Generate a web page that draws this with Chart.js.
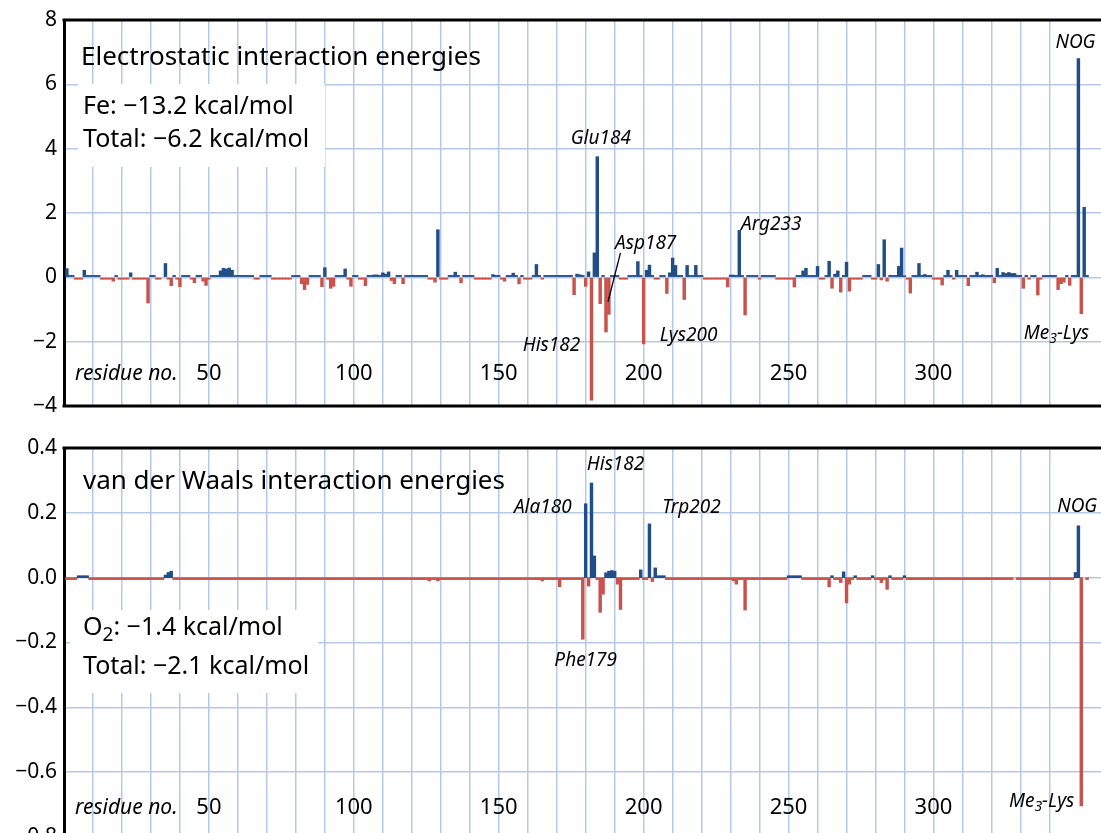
<!DOCTYPE html>
<html>
<head>
<meta charset="utf-8">
<title>Interaction energies per residue</title>
<script src="https://cdn.jsdelivr.net/npm/chart.js@4.4.1/dist/chart.umd.min.js"></script>
<style>
  html, body { margin: 0; padding: 0; background: #fff; overflow: hidden; }
  #wrap { position: relative; width: 1101px; height: 833px; overflow: hidden; }
  canvas { position: absolute; left: 0; }
  #elecChart { top: 0; }
  #vdwChart { top: 420px; }
</style>
</head>
<body>
<div id="wrap">
  <canvas id="elecChart" width="1101" height="420"></canvas>
  <canvas id="vdwChart" width="1101" height="430"></canvas>
</div>
<script>
// residue axis (residue no.)
const residueMin = 0;
const residueMax = 357.8;
const residueLabels = [50, 100, 150, 200, 250, 300];

// electrostatic energies (kcal/mol), the residues that stand out
const elecResidues = [1, 7, 17, 23, 29, 35, 37, 40, 45, 48, 49, 54, 55, 56, 57, 58, 82, 83, 84, 89, 90, 92, 93, 97, 99,
  104, 107, 108, 110, 111, 112, 113, 114, 117, 128, 129, 135, 137, 148, 152, 155, 157, 163, 176, 177, 178, 180, 181,
  182, 183, 184, 185, 187, 188, 198, 200, 201, 202, 208, 209, 210, 211, 214, 215, 218, 229, 230, 231, 233, 235, 252,
  255, 256, 260, 264, 265, 266, 267, 268, 270, 271, 281, 282, 283, 284, 288, 289, 290, 292, 295, 297, 303, 305, 308,
  312, 315, 317, 321, 322, 324, 325, 326, 327, 328, 331, 336, 343, 344, 345, 347, 350, 351, 352];
const elecValues = [0.27, 0.22, -0.12, 0.14, -0.80, 0.43, -0.26, -0.29, -0.17, -0.12, -0.25, 0.20, 0.28, 0.26, 0.29, 0.22, -0.20, -0.38, -0.22, -0.29, 0.30, -0.34, -0.28, 0.26, -0.28,
  -0.26, 0.075, 0.075, 0.14, 0.10, 0.17, -0.10, -0.20, -0.20, -0.15, 1.48, 0.16, -0.17, 0.085, -0.12, 0.13, -0.20, 0.40, -0.54, 0.10, 0.08, -0.28, 0.17,
  -3.82, 0.76, 3.75, -0.82, -1.70, -1.15, 0.49, -2.07, 0.22, 0.38, -0.50, 0.14, 0.60, 0.37, -0.69, 0.37, 0.37, -0.30, 0.07, 0.07, 1.46, -1.17, -0.30,
  0.20, 0.28, 0.34, 0.50, -0.34, 0.10, 0.20, -0.46, 0.47, -0.43, 0.40, -0.08, 1.17, -0.12, 0.34, 0.91, 0.05, -0.49, 0.43, 0.09, -0.24, 0.22, 0.22,
  -0.26, 0.16, 0.08, -0.17, 0.28, 0.15, 0.12, 0.15, 0.12, 0.12, -0.34, -0.55, -0.38, -0.20, -0.15, -0.25, 6.80, -1.13, 2.18];
// residues with only a tiny contribution (ranges of residue numbers)
const elecSmallPos = [[2, 3], [8, 12], [18, 18], [30, 31], [38, 38], [41, 43], [46, 47], [51, 53], [59, 65], [68, 71], [79, 81],
  [85, 88], [94, 96], [100, 101], [105, 106], [109, 109], [115, 116], [118, 125], [133, 134], [136, 136], [138, 141],
  [149, 150], [153, 154], [156, 156], [158, 158], [162, 162], [164, 164], [166, 175], [179, 179], [186, 186], [189, 191],
  [195, 197], [199, 199], [203, 203], [206, 207], [212, 213], [216, 217], [219, 220], [232, 232], [234, 234], [236, 239],
  [241, 245], [253, 254], [257, 259], [263, 263], [269, 269], [276, 278], [285, 287], [293, 294], [296, 296], [298, 299],
  [304, 304], [306, 306], [309, 311], [313, 314], [316, 316], [318, 320], [323, 323], [329, 330], [332, 332], [334, 335],
  [338, 342], [346, 346], [348, 349], [353, 353]];
const elecSmallNeg = [[4, 6], [13, 16], [19, 22], [24, 28], [32, 33], [36, 36], [39, 39], [44, 44], [50, 50], [66, 67],
  [72, 78], [91, 91], [98, 98], [102, 103], [126, 127], [130, 132], [142, 147], [151, 151], [159, 161], [165, 165],
  [192, 194], [204, 205], [221, 228], [240, 240], [246, 251], [261, 262], [272, 275], [279, 280], [291, 291], [300, 302],
  [307, 307], [333, 333], [337, 337]];
const elecSmallSize = 0.06;
const elecTicks = [-4, 8, 2];

// van der Waals energies (kcal/mol)
const vdwResidues = [35, 36, 37, 126, 129, 165, 171, 179, 180, 181, 182, 183, 185, 186, 187, 188, 189, 190, 191, 192,
  199, 202, 203, 204, 231, 232, 235, 264, 268, 269, 270, 271, 282, 284, 349, 350, 351];
const vdwValues = [0.008, 0.016, 0.02, -0.01, -0.01, -0.01, -0.028, -0.19, 0.228, -0.026, 0.292, 0.067, -0.107, -0.051, 0.015, 0.02, 0.022, 0.02, -0.02, -0.098,
  0.024, 0.166, -0.012, 0.03, -0.01, -0.02, -0.10, -0.028, -0.015, 0.018, -0.078, -0.02, -0.015, -0.036, 0.016, 0.16, -0.704];
const vdwSmallPos = [[5, 8], [205, 207], [250, 254], [265, 265], [273, 273], [279, 279], [285, 285], [290, 290]];
const vdwSmallNeg = [[1, 4], [9, 34], [38, 125], [127, 128], [130, 164], [166, 170], [172, 178], [184, 184], [193, 198],
  [200, 201], [208, 230], [233, 234], [236, 249], [255, 263], [266, 267], [272, 272], [274, 278], [280, 281], [283, 283],
  [286, 289], [291, 327], [329, 348], [353, 353]];
const vdwSmallSize = 0.006;
const vdwTicks = [-0.8, 0.4, 0.2];

const BLUE = '#224e88';
const RED = '#c9524d';
const GRID = '#b5c9e6';
const FONT = '"Noto Sans", "Open Sans", sans-serif';

function buildBars(residues, values, smallPos, smallNeg, smallSize) {
  const byResidue = new Map();
  smallPos.forEach(([a, b]) => { for (let r = a; r <= b; r++) byResidue.set(r, smallSize); });
  smallNeg.forEach(([a, b]) => { for (let r = a; r <= b; r++) byResidue.set(r, -smallSize); });
  residues.forEach((r, i) => byResidue.set(r, values[i]));
  return [...byResidue.entries()].sort((a, b) => a[0] - b[0]).map(([x, y]) => ({ x, y }));
}

function drawRich(ctx, parts, x, y, size, italic, align) {
  const style = italic ? 'italic ' : '';
  const big = `${style}${size}px ${FONT}`;
  const small = `${style}${Math.round(size * 0.75)}px ${FONT}`;
  let total = 0;
  parts.forEach(p => { ctx.font = p.sub ? small : big; total += ctx.measureText(p.t).width; });
  let cx = align === 'left' ? x : x - total / 2;
  ctx.textAlign = 'left';
  parts.forEach(p => {
    ctx.font = p.sub ? small : big;
    ctx.fillText(p.t, cx, p.sub ? y + size * 0.3 : y);
    cx += ctx.measureText(p.t).width;
  });
}

const panelText = {
  id: 'panelText',
  beforeDatasetsDraw(chart, args, opts) {
    const { ctx, chartArea } = chart;
    ctx.save();
    ctx.fillStyle = '#fff';
    opts.boxes.forEach(b => ctx.fillRect(chartArea.left + b.dx, chartArea.top + b.dy, b.w, b.h));
    ctx.restore();
  },
  afterDatasetsDraw(chart, args, opts) {
    const { ctx, chartArea } = chart;
    const xs = chart.scales.x, ys = chart.scales.y;
    ctx.save();
    // frame lines, top and bottom
    ctx.strokeStyle = '#000';
    ctx.lineWidth = 3;
    ctx.beginPath();
    ctx.moveTo(chartArea.left - 1.5, chartArea.top);
    ctx.lineTo(chartArea.right, chartArea.top);
    ctx.moveTo(chartArea.left - 1.5, chartArea.bottom);
    ctx.lineTo(chartArea.right, chartArea.bottom);
    ctx.stroke();

    ctx.fillStyle = '#000';
    ctx.textBaseline = 'middle';
    // title and totals
    opts.texts.forEach(t => {
      drawRich(ctx, t.parts || [{ t: t.text }], chartArea.left + t.dx, chartArea.top + t.dy, t.size, false, 'left');
    });
    // residue axis labels inside the plot
    const axisY = ys.getPixelForValue(opts.axisLabelValue);
    ctx.font = `22px ${FONT}`;
    ctx.textAlign = 'center';
    residueLabels.forEach(v => ctx.fillText(String(v), xs.getPixelForValue(v), axisY));
    ctx.font = `italic 21px ${FONT}`;
    ctx.textAlign = 'left';
    ctx.fillText('residue no.', chartArea.left + 11, axisY);
    // residue annotations
    opts.labels.forEach(l => {
      drawRich(ctx, l.parts || [{ t: l.text }], xs.getPixelForValue(l.x), ys.getPixelForValue(l.y), 19, true, 'center');
    });
    ctx.lineWidth = 1.3;
    (opts.leaders || []).forEach(ld => {
      ctx.beginPath();
      ctx.moveTo(xs.getPixelForValue(ld[0][0]), ys.getPixelForValue(ld[0][1]));
      ctx.lineTo(xs.getPixelForValue(ld[1][0]), ys.getPixelForValue(ld[1][1]));
      ctx.stroke();
    });
    ctx.restore();
  }
};

function tickLabel(v, digits) {
  const s = Math.abs(v).toFixed(digits);
  return v < -1e-9 ? '\u2212' + s : s;
}

function makePanel(id, bars, ticks, digits, padding, text) {
  return new Chart(document.getElementById(id), {
    type: 'bar',
    data: {
      datasets: [{
        data: bars,
        backgroundColor: c => (c.raw && c.raw.y < 0 ? RED : BLUE),
        borderWidth: 0,
        barThickness: 2.8
      }]
    },
    options: {
      responsive: false,
      animation: false,
      devicePixelRatio: 1,
      layout: { padding: padding },
      plugins: {
        legend: { display: false },
        tooltip: { enabled: false },
        panelText: text
      },
      scales: {
        x: {
          type: 'linear',
          min: residueMin,
          max: residueMax,
          offset: false,
          ticks: { display: false, stepSize: 10 },
          grid: {
            offset: false,
            drawTicks: false,
            lineWidth: 1.5,
            color: c => (c.tick && c.tick.value % 10 === 0 ? GRID : 'rgba(0,0,0,0)')
          },
          border: { display: false }
        },
        y: {
          min: ticks[0],
          max: ticks[1],
          ticks: {
            stepSize: ticks[2],
            padding: 7,
            color: '#000',
            font: { family: FONT, size: 21 },
            callback: v => tickLabel(v, digits)
          },
          grid: { drawTicks: false, lineWidth: 1.5, color: GRID },
          border: { display: true, color: '#000', width: 3 },
          afterFit: s => { s.width = 64; s.paddingTop = 0; s.paddingBottom = 0; }
        }
      }
    },
    plugins: [panelText]
  });
}

makePanel('elecChart',
  buildBars(elecResidues, elecValues, elecSmallPos, elecSmallNeg, elecSmallSize),
  elecTicks, 0, { top: 20, bottom: 14, left: 0, right: 0 },
  {
    boxes: [{ dx: 14, dy: 64, w: 247, h: 83 }],
    texts: [
      { text: 'Electrostatic interaction energies', dx: 17, dy: 38, size: 26 },
      { text: 'Fe: \u221213.2 kcal/mol', dx: 19, dy: 87, size: 25 },
      { text: 'Total: \u22126.2 kcal/mol', dx: 19, dy: 120, size: 25 }
    ],
    axisLabelValue: -3,
    labels: [
      { text: 'Glu184', x: 185.2, y: 4.30 },
      { text: 'His182', x: 168.2, y: -2.13 },
      { text: 'Asp187', x: 200.7, y: 1.04 },
      { text: 'Lys200', x: 215.5, y: -1.82 },
      { text: 'Arg233', x: 244.0, y: 1.63 },
      { text: 'NOG', x: 349.0, y: 7.29 },
      { parts: [{ t: 'Me' }, { t: '3', sub: true }, { t: '-Lys' }], x: 342.4, y: -1.74 }
    ],
    leaders: [[[192.0, 0.76], [187.7, -0.76]]]
  });

makePanel('vdwChart',
  buildBars(vdwResidues, vdwValues, vdwSmallPos, vdwSmallNeg, vdwSmallSize),
  vdwTicks, 1, { top: 28, bottom: 13, left: 0, right: 0 },
  {
    boxes: [{ dx: 6, dy: 162, w: 248, h: 83 }],
    texts: [
      { text: 'van der Waals interaction energies', dx: 19, dy: 34, size: 26 },
      { parts: [{ t: 'O' }, { t: '2', sub: true }, { t: ': \u22121.4 kcal/mol' }], dx: 19, dy: 180, size: 25 },
      { text: 'Total: \u22122.1 kcal/mol', dx: 19, dy: 219, size: 25 }
    ],
    axisLabelValue: -0.71,
    labels: [
      { text: 'His182', x: 190.3, y: 0.348 },
      { text: 'Ala180', x: 165.2, y: 0.215 },
      { text: 'Trp202', x: 216.5, y: 0.216 },
      { text: 'Phe179', x: 180.0, y: -0.256 },
      { text: 'NOG', x: 349.6, y: 0.219 },
      { parts: [{ t: 'Me' }, { t: '3', sub: true }, { t: '-Lys' }], x: 337.3, y: -0.69 }
    ]
  });
</script>
</body>
</html>
